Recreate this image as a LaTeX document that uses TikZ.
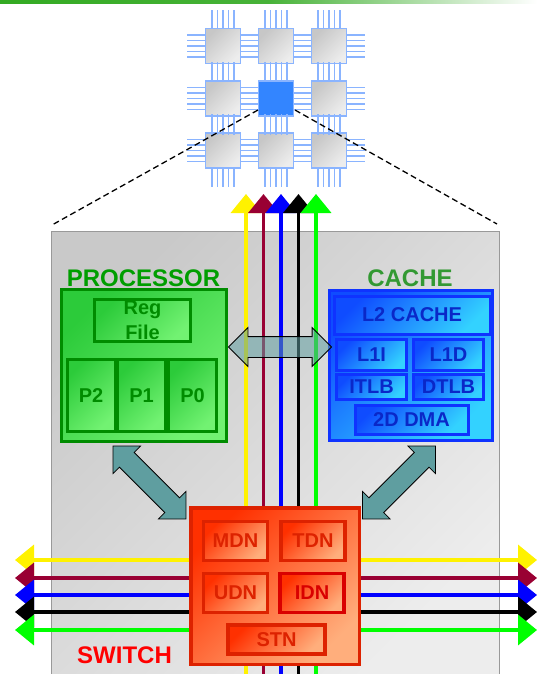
\documentclass[tikz,border=0pt]{standalone}
\usepackage{fontspec}
\setmainfont{Liberation Sans}
\usetikzlibrary{arrows.meta,shapes.arrows}
\definecolor{bandgreen}{HTML}{33AA22}
\definecolor{wiremaroon}{HTML}{990033}
\definecolor{pingblue}{HTML}{8AB4FF}
\definecolor{tealfill}{HTML}{5F9EA0}
\definecolor{procdark}{HTML}{008C00}
\definecolor{proctop}{HTML}{2CCB3A}
\definecolor{procbot}{HTML}{72F272}
\definecolor{cachedark}{HTML}{0F33FF}
\definecolor{cachetop}{HTML}{0F4CFF}
\definecolor{cachebot}{HTML}{33D2FF}
\definecolor{cachetext}{HTML}{0A28C8}
\definecolor{swdark}{HTML}{DD2200}
\definecolor{swtop}{HTML}{FF3000}
\definecolor{swbot}{HTML}{FFAE7C}
\begin{document}
\begin{tikzpicture}[x=1pt,y=-1pt,>=stealth]
    \tikzset{
        tile/.style={draw=pingblue, line width=1.4pt, inner sep=0pt, minimum size=35pt, top color=black!22, bottom color=black!7, shading angle=45},
        pin/.style={draw=pingblue, line width=1.6pt},
        title/.style={font=\fontsize{24}{26}\selectfont\bfseries},
        proc/.style={draw=procdark, text=procdark, line width=3pt, inner sep=0pt, align=center, font=\fontsize{20}{25}\selectfont\bfseries, top color=proctop, bottom color=procbot, shading angle=45},
        cache/.style={draw=cachedark, text=cachetext, line width=3pt, inner sep=0pt, font=\fontsize{20}{24}\selectfont\bfseries, top color=cachetop, bottom color=cachebot, shading angle=45},
        sw/.style={draw=swdark, text=swdark, line width=3.5pt, inner sep=0pt, font=\fontsize{20}{24}\selectfont\bfseries, top color=swtop, bottom color=swbot, shading angle=45},
        wire/.style={line width=3.8pt, -{Triangle[length=19pt,width=30pt]}},
        bigarrow/.style={double arrow, draw=black, line width=.8pt, inner xsep=0pt, inner ysep=10pt, double arrow head extend=9pt, double arrow tip angle=90, minimum height=103pt}
    }
    \useasboundingbox (0,0) rectangle (537,674);
    % band along the top
    \node[inner sep=0pt, minimum width=537pt, minimum height=3.5pt, left color=bandgreen, right color=white, middle color=bandgreen!90!white] (band) at (268.5,1.75) {};

    % grid of tiles
    \foreach \nm/\xpos/\ypos in {aa/223/46, ab/276/46, ac/329/46, ba/223/98.5, bc/329/98.5, ca/223/150.5, cb/276/150.5, cc/329/150.5}{
        \node[tile] (\nm) at (\xpos,\ypos) {};
    }
    \node[draw=pingblue, line width=1.4pt, inner sep=0pt, minimum size=35pt, fill=blue!60!cyan!80!white] (bb) at (276,98.5) {};
    \foreach \nm/\xpos/\ypos in {aa/223/46, ab/276/46, ac/329/46, ba/223/98.5, bb/276/98.5, bc/329/98.5, ca/223/150.5, cb/276/150.5, cc/329/150.5}{
        \foreach \off in {-11,-5.5,0,5.5,11}{
            \draw[pin] (\xpos+\off,\ypos-18) -- ++(0,-18);
            \draw[pin] (\xpos+\off,\ypos+18) -- ++(0,18);
            \draw[pin] (\xpos-18,\ypos+\off) -- ++(-18,0);
            \draw[pin] (\xpos+18,\ypos+\off) -- ++(18,0);
        }
    }

    % the panel
    \node[draw=black!40, line width=1pt, inner sep=0pt, minimum width=448pt, minimum height=443pt, top color=black!21, bottom color=black!7, shading angle=45] (panel) at (275,452.5) {};
    \coordinate (zoomla) at (258,110);
    \coordinate (zoomlb) at (52,225);
    \coordinate (zoomra) at (295,110);
    \coordinate (zoomrb) at (497,224);
    \draw[dash pattern=on 6pt off 3.5pt, line width=1.3pt] (zoomla) -- (zoomlb);
    \draw[dash pattern=on 6pt off 3.5pt, line width=1.3pt] (zoomra) -- (zoomrb);

    % switch
    \node[sw, minimum width=168.5pt, minimum height=156.5pt] (switch) at (275,586) {};
    \node[sw, minimum width=64pt, minimum height=39pt] (mdn) at (235.5,541) {MDN};
    \node[sw, minimum width=64pt, minimum height=39pt] (tdn) at (313,541) {TDN};
    \node[sw, minimum width=64pt, minimum height=39pt] (udn) at (235.5,593) {UDN};
    \node[sw, draw=red!85!black, text=red!85!black, minimum width=64pt, minimum height=39pt] (idn) at (312,593) {IDN};
    \node[sw, minimum width=97pt, minimum height=29pt] (stn) at (276.5,639.5) {STN};
    \node[title, text=red] (swlabel) at (124.5,655) {SWITCH};

    % wires
    \foreach \nm/\xpos/\ypos/\col in {ye/246/560/yellow, ma/263.5/578/wiremaroon, bl/281/595/blue, bk/298.5/612/black, gr/316/630/green}{
        \coordinate (\nm top) at (\xpos,194);
        \coordinate (\nm bot) at (\xpos,674);
        \coordinate (\nm lft) at (15,\ypos);
        \coordinate (\nm rgt) at (537,\ypos);
        \draw[wire,draw=\col,fill=\col] (switch.north -| \nm top) -- (\nm top);
        \draw[draw=\col,line width=3.8pt] (switch.south -| \nm bot) -- (\nm bot);
        \draw[wire,draw=\col,fill=\col] (switch.west |- \nm lft) -- (\nm lft);
        \draw[wire,draw=\col,fill=\col] (switch.east |- \nm rgt) -- (\nm rgt);
    }

    % processor
    \node[title, text=green!62!black] (proclabel) at (143.5,278.5) {PROCESSOR};
    \node[proc, minimum width=165pt, minimum height=152pt] (processor) at (144,365.5) {};
    \node[proc, minimum width=96pt, minimum height=42pt] (regfile) at (142.5,320.5) {Reg\\File};
    \node[proc, minimum width=48pt, minimum height=72pt] (ptwo) at (91,395.5) {P2};
    \node[proc, minimum width=48pt, minimum height=72pt] (pone) at (141.5,395.5) {P1};
    \node[proc, minimum width=48pt, minimum height=72pt] (pzero) at (192.5,395.5) {P0};

    % cache
    \node[title, text=green!50!black!80!white] (cachelabel) at (410,278) {CACHE};
    \node[cache, minimum width=163pt, minimum height=150pt] (cachebox) at (411,365.5) {};
    \node[cache, minimum width=156pt, minimum height=38pt] (ltwo) at (412,315) {L2 CACHE};
    \node[cache, minimum width=70pt, minimum height=31pt] (lonei) at (371.5,355) {L1I};
    \node[cache, minimum width=70pt, minimum height=31pt] (loned) at (448.5,355) {L1D};
    \node[cache, minimum width=70pt, minimum height=25pt] (itlb) at (371.5,387) {ITLB};
    \node[cache, minimum width=70pt, minimum height=25pt] (dtlb) at (448.5,387) {DTLB};
    \node[cache, minimum width=113pt, minimum height=29pt] (dma) at (411.5,419.5) {2D DMA};

    % arrows between the blocks
    \node[bigarrow, fill=tealfill, fill opacity=.55] (pcarrow) at (280,347) {};
    \node[bigarrow, fill=tealfill, rotate=-45] (psarrow) at (149.5,482.5) {};
    \node[bigarrow, fill=tealfill, rotate=45] (csarrow) at (399,482.5) {};
\end{tikzpicture}
\end{document}
